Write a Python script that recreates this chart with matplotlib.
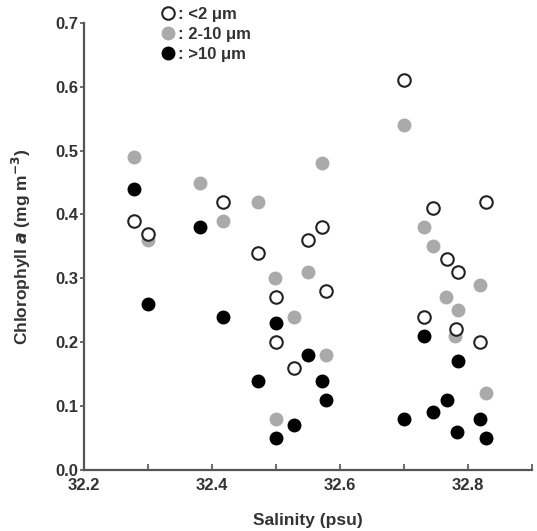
import numpy as np
import matplotlib
matplotlib.use('Agg')
import matplotlib.pyplot as plt
from matplotlib.ticker import MultipleLocator, FormatStrFormatter

# Chlorophyll a by size fraction vs salinity
sal_small = [32.278, 32.30, 32.417, 32.472, 32.50, 32.50, 32.528, 32.55, 32.572,
             32.578, 32.70, 32.731, 32.745, 32.767, 32.784, 32.781, 32.819, 32.828]
chl_small = [0.39, 0.37, 0.42, 0.34, 0.27, 0.20, 0.16, 0.36, 0.38,
             0.28, 0.61, 0.24, 0.41, 0.33, 0.31, 0.22, 0.20, 0.42]

sal_mid = [32.278, 32.30, 32.381, 32.417, 32.472, 32.498, 32.528, 32.50, 32.55, 32.572,
           32.578, 32.70, 32.731, 32.745, 32.766, 32.784, 32.78, 32.819, 32.828]
chl_mid = [0.49, 0.36, 0.45, 0.39, 0.42, 0.30, 0.24, 0.08, 0.31, 0.48,
           0.18, 0.54, 0.38, 0.35, 0.27, 0.25, 0.21, 0.29, 0.12]

sal_large = [32.278, 32.30, 32.381, 32.417, 32.472, 32.50, 32.50, 32.528, 32.55, 32.572,
             32.578, 32.70, 32.731, 32.745, 32.767, 32.784, 32.783, 32.819, 32.828]
chl_large = [0.44, 0.26, 0.38, 0.24, 0.14, 0.23, 0.05, 0.07, 0.18, 0.14,
             0.11, 0.08, 0.21, 0.09, 0.11, 0.17, 0.06, 0.08, 0.05]

labels = [': <2 \u03bcm', ': 2-10 \u03bcm', ': >10 \u03bcm']

plt.rcParams['font.family'] = ['Liberation Sans', 'DejaVu Sans']
plt.rcParams['font.weight'] = 'bold'
plt.rcParams['axes.labelweight'] = 'bold'
plt.rcParams['mathtext.default'] = 'bf'
txt = '#333333'

fig = plt.figure(figsize=(5.37, 5.31), dpi=100)
ax = fig.add_axes([0.156, 0.115, 0.835, 0.842])

ms = 9
ax.plot(sal_small, chl_small, 'o', ms=ms, mfc='white', mec='#222222', mew=1.5,
        ls='none', label=labels[0], clip_on=False, zorder=3)
ax.plot(sal_mid, chl_mid, 'o', ms=ms, mfc='#aaaaaa', mec='#aaaaaa', mew=1,
        ls='none', label=labels[1], clip_on=False, zorder=2)
ax.plot(sal_large, chl_large, 'o', ms=ms, mfc='black', mec='black', mew=1,
        ls='none', label=labels[2], clip_on=False, zorder=2)

ax.set_xlim(32.2, 32.9)
ax.set_ylim(0, 0.7)
ax.xaxis.set_major_locator(MultipleLocator(0.2))
ax.xaxis.set_minor_locator(MultipleLocator(0.1))
ax.yaxis.set_major_locator(MultipleLocator(0.1))
ax.xaxis.set_major_formatter(FormatStrFormatter('%.1f'))
ax.yaxis.set_major_formatter(FormatStrFormatter('%.1f'))

for s in ['top', 'right']:
    ax.spines[s].set_visible(False)
for s in ['left', 'bottom']:
    ax.spines[s].set_color('#555555')
    ax.spines[s].set_linewidth(1.6)

ax.tick_params(axis='x', which='both', direction='in', length=4, width=1.2,
               color='#555555', labelsize=12, labelcolor=txt, pad=6)
ax.tick_params(axis='y', which='both', direction='out', length=3, width=1.2,
               color='#555555', labelsize=12, labelcolor=txt, pad=1)

ax.set_xlabel('Salinity (psu)', fontsize=12.5, color=txt, labelpad=14)
ax.set_ylabel('Chlorophyll $\\mathit{a}$ (mg m$^{-3}$)', fontsize=12.5,
              color=txt, labelpad=16)

leg = ax.legend(loc='upper left', bbox_to_anchor=(0.15, 1.05), frameon=False,
                handletextpad=0.0, handlelength=1.2, labelspacing=0.3,
                prop={'size': 12, 'weight': 'bold'}, borderaxespad=0)
for t in leg.get_texts():
    t.set_color(txt)

fig.savefig('out.png', dpi=100)
